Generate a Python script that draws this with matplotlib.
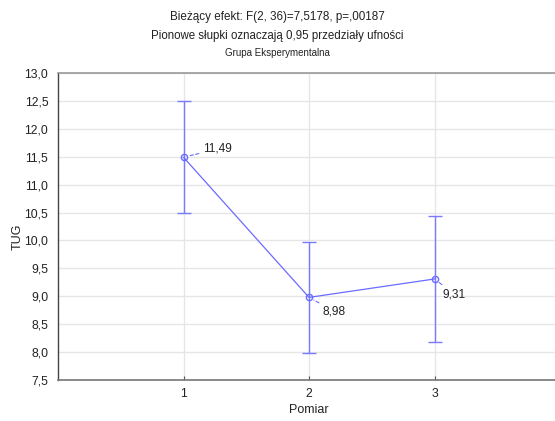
import matplotlib
matplotlib.use("Agg")
import matplotlib.pyplot as plt

plt.rcParams['font.family'] = ['Liberation Sans', 'DejaVu Sans']

pomiar = [1, 2, 3]
means = [11.49, 8.98, 9.31]
ci_low = [10.49, 7.98, 8.18]
ci_high = [12.49, 9.97, 10.43]
labels = ["11,49", "8,98", "9,31"]
yticks = [7.5, 8.0, 8.5, 9.0, 9.5, 10.0, 10.5, 11.0, 11.5, 12.0, 12.5, 13.0]

fig = plt.figure(figsize=(5.55, 4.21), dpi=100)
ax = fig.add_axes([58/555, 1-380/421, 502/555, (380-73)/421])

line_c = '#6b6bff'
err_c = '#7a7aff'

yerr = [[m - l for m, l in zip(means, ci_low)], [h - m for m, h in zip(means, ci_high)]]
ax.errorbar(pomiar, means, yerr=yerr, fmt='none', ecolor=err_c, elinewidth=1.0,
            capsize=4.7, capthick=1.0, zorder=3)
ax.plot(pomiar, means, color=line_c, lw=0.9, marker='o', ms=4.5,
        mfc='none', mec=line_c, mew=1.0, zorder=4)

# value labels with dashed leaders
offsets = [(14, 6), (10, -10), (6, -11)]
for x, y, lab, (dx, dy) in zip(pomiar, means, labels, offsets):
    ax.annotate(lab, xy=(x, y), xytext=(dx, dy), textcoords='offset points',
                fontsize=8.6, color='#222222', va='center', ha='left',
                arrowprops=dict(arrowstyle='-', color=line_c, lw=0.8, ls=(0, (3, 2)),
                                shrinkA=1, shrinkB=4))

ax.set_xlim(0, 4)
ax.set_ylim(7.5, 13.0)
ax.set_xticks(pomiar)
ax.set_xticklabels([str(p) for p in pomiar])
ax.set_yticks(yticks)
ax.set_yticklabels([f"{v:.1f}".replace('.', ',') for v in yticks])
ax.tick_params(axis='both', labelsize=8.8, colors='#222222', length=3, width=0.8)
ax.tick_params(axis='x', direction='in', length=3, color='#555555', pad=6)
ax.tick_params(axis='y', direction='in', length=0, pad=7)
ax.grid(True, color='#e6e6e6', lw=1.0, zorder=0)
ax.set_axisbelow(True)

ax.spines['left'].set_color('#444444')
ax.spines['left'].set_linewidth(1.0)
ax.spines['bottom'].set_color('#777777')
ax.spines['bottom'].set_linewidth(1.2)
ax.spines['top'].set_color('#999999')
ax.spines['top'].set_linewidth(1.2)
ax.spines['right'].set_visible(False)

ax.set_ylabel('TUG', fontsize=9, color='#222222')
ax.set_xlabel('Pomiar', fontsize=9, color='#222222')
ax.yaxis.set_label_coords(-40/502, 0.465)
ax.xaxis.set_label_coords(251/502, -30/307)
ax.xaxis.label.set_va('center')
ax.yaxis.label.set_va('center')

fig.text(0.5, 1-17/421, 'Bieżący efekt: F(2, 36)=7,5178, p=,00187', ha='center', va='center',
         fontsize=8.4, color='#222222')
fig.text(0.5, 1-36/421, 'Pionowe słupki oznaczają 0,95 przedziały ufności', ha='center', va='center',
         fontsize=8.3, color='#222222')
fig.text(0.5, 1-53/421, 'Grupa Eksperymentalna', ha='center', va='center',
         fontsize=7.0, color='#222222')

fig.savefig('out.png', dpi=100)
